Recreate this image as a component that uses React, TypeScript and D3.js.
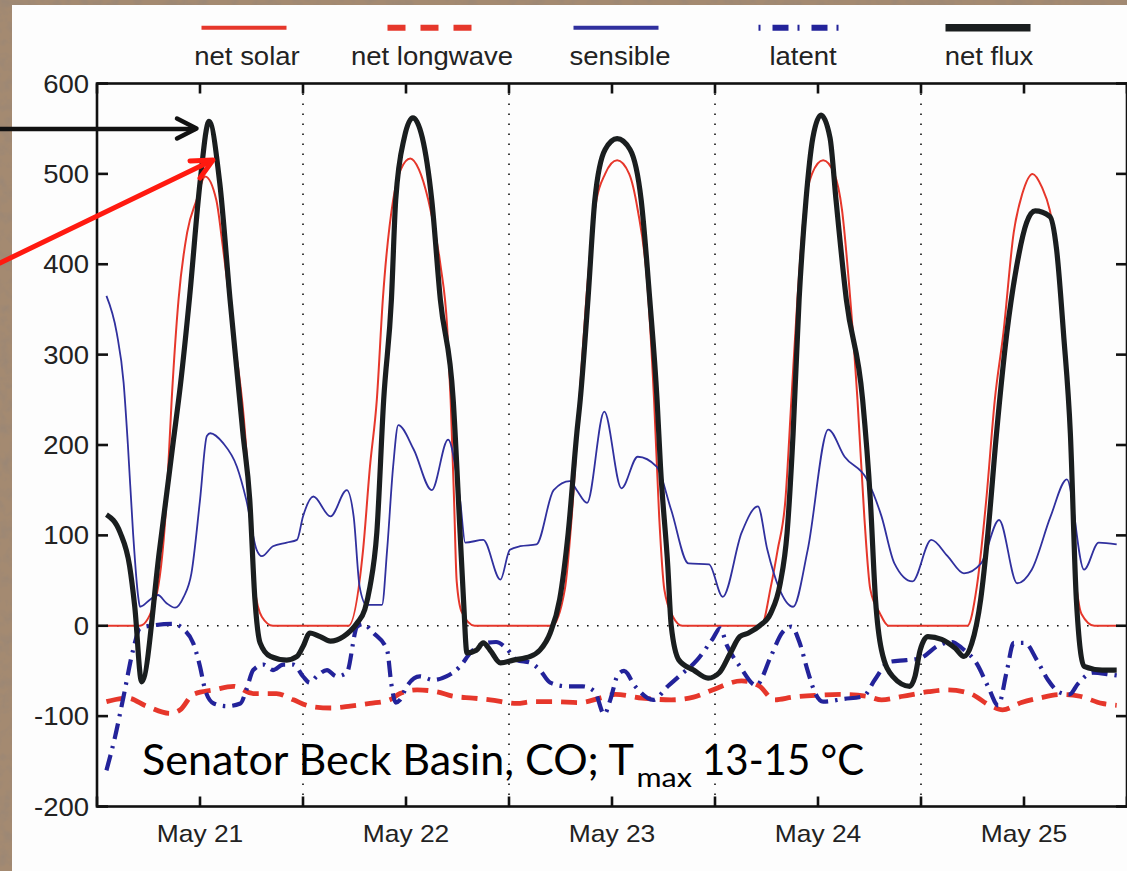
import React from 'react';
import * as d3 from 'd3';

// time in hours since the left edge of the axes (May 21 00:00), value in W m^-2
const netSolar: [number, number][] = [
  [1.1, 0], [5.0, 0], [6.8, 29], [8.1, 139], [8.7, 250], [9.5, 361], [10.5, 435], [11.6, 471], [12.6, 497],
  [13.9, 471], [14.6, 424], [15.8, 330], [17.1, 230], [17.8, 139], [18.4, 40], [19.2, 10], [20.5, 0],
  [29.3, 0], [31.0, 84], [31.8, 176], [32.6, 250], [33.3, 361], [34.5, 471], [35.4, 505], [36.5, 517],
  [37.5, 505], [38.6, 471], [40.0, 400], [40.8, 330], [41.2, 250], [41.6, 139], [41.9, 50], [42.5, 15], [44.0, 0],
  [53.0, 0], [54.5, 40], [55.3, 120], [56.2, 250], [57.0, 361], [58.0, 460], [59.2, 500], [60.6, 515],
  [62.0, 500], [63.0, 460], [64.1, 380], [64.9, 250], [65.5, 120], [66.1, 40], [67.1, 10], [68.2, 0],
  [77.4, 0], [78.5, 43], [79.3, 84], [80.2, 139], [80.9, 250], [81.6, 361], [82.4, 460], [83.3, 500], [84.6, 515],
  [85.9, 500], [86.8, 460], [87.6, 380], [88.6, 250], [89.4, 120], [90.1, 40], [91.2, 14], [92.2, 0],
  [101.4, 0], [102.5, 43], [103.6, 139], [104.6, 250], [105.6, 324], [106.8, 435], [107.8, 478], [109.0, 500],
  [110.1, 485], [111.0, 460], [112.0, 400], [112.8, 300], [113.4, 200], [113.8, 80], [114.3, 30], [114.7, 13],
  [116.2, 0], [118.8, 0],
];

const netLongwave: [number, number][] = [
  [1.1, -84], [3.5, -80], [5.8, -89], [8.5, -97], [9.7, -93], [11.2, -76], [13.6, -71], [15.9, -67], [18.2, -75],
  [20.9, -75], [22.9, -82], [24.8, -89], [27.2, -91], [29.5, -89], [31.8, -86], [34.1, -82], [35.3, -75],
  [37.3, -71], [39.6, -73], [41.5, -78], [43.8, -80], [45.8, -82], [48.9, -86], [50.8, -84], [53.2, -84],
  [56.3, -85], [58.6, -80], [60.4, -76], [63.5, -80], [66.9, -82], [69.5, -79], [71.7, -71], [75.1, -61],
  [77.2, -67], [78.9, -82], [81.1, -79], [83.7, -77], [87.1, -76], [89.7, -78], [91.4, -82], [93.9, -78],
  [96.9, -73], [99.1, -71], [101.7, -75], [104.2, -89], [105.5, -93], [107.7, -85], [109.8, -80], [112.4, -76],
  [114.5, -78], [117.1, -86], [118.8, -88],
];

const sensible: [number, number][] = [
  [1.1, 365], [2.3, 324], [3.1, 269], [3.6, 200], [4.2, 103], [4.8, 32], [5.0, 21], [6.2, 29], [7.1, 34],
  [8.1, 25], [9.1, 20], [10.1, 32], [11.0, 58], [12.0, 139], [12.8, 210], [13.2, 213], [14.7, 202], [16.3, 176],
  [17.4, 139], [18.6, 84], [19.2, 77], [20.5, 88], [22.1, 92], [23.3, 95], [24.0, 121], [25.2, 143], [27.2, 121],
  [29.1, 150], [29.9, 121], [30.6, 43], [31.4, 23], [33.2, 23], [33.8, 84], [34.5, 176], [35.1, 222], [36.9, 195],
  [39.0, 150], [40.9, 206], [42.3, 139], [42.9, 92], [45.0, 95], [47.0, 51], [48.1, 84], [49.3, 88], [51.2, 90],
  [53.2, 150], [55.1, 160], [55.9, 150], [57.1, 136], [59.1, 237], [61.1, 152], [63.0, 187], [65.2, 176],
  [66.9, 128], [68.9, 69], [71.3, 68], [72.9, 32], [75.1, 103], [77.0, 132], [78.1, 84], [79.4, 43], [81.1, 21],
  [82.8, 84], [85.2, 217], [87.1, 187], [89.7, 162], [91.4, 121], [92.9, 69], [95.0, 49], [97.2, 95], [99.1, 77],
  [101.0, 58], [103.0, 69], [105.1, 117], [107.2, 47], [108.9, 62], [111.1, 121], [113.0, 162], [115.0, 62],
  [116.7, 92], [118.8, 90],
];

const latent: [number, number][] = [
  [1.1, -160], [2.1, -123], [3.1, -78], [4.2, -27], [5.0, -3], [6.2, 0], [8.9, 2], [10.1, -4], [11.2, -19],
  [12.0, -45], [12.6, -71], [13.6, -86], [15.1, -89], [16.7, -86], [17.4, -71], [18.2, -49], [19.4, -43],
  [20.5, -49], [21.7, -43], [22.9, -43], [24.0, -56], [24.8, -63], [25.6, -56], [26.8, -49], [27.9, -56],
  [29.1, -52], [30.3, -1], [31.0, 2], [32.2, -8], [33.8, -27], [34.3, -65], [34.8, -85], [35.3, -82], [36.1, -67],
  [37.6, -56], [39.2, -60], [40.7, -56], [42.3, -45], [43.5, -30], [45.0, -20], [46.5, -18], [47.7, -25],
  [48.9, -38], [50.5, -41], [51.6, -49], [52.8, -63], [54.7, -67], [56.6, -67], [58.0, -73], [59.1, -98],
  [59.8, -82], [60.7, -54], [61.4, -50], [62.7, -67], [64.8, -82], [66.5, -67], [67.8, -56], [69.9, -38],
  [71.7, -15], [72.6, -3], [73.4, -22], [74.9, -45], [76.8, -66], [78.5, -34], [79.8, -8], [80.9, -1], [81.9, -20],
  [82.8, -50], [83.7, -75], [84.6, -84], [87.0, -81], [89.3, -78], [90.6, -60], [92.3, -40], [94.3, -38],
  [95.9, -36], [98.0, -22], [99.6, -18], [100.8, -25], [102.5, -42], [103.8, -67], [105.0, -88], [106.0, -50],
  [106.8, -19], [108.1, -19], [109.5, -38], [110.8, -60], [112.2, -74], [113.3, -76], [114.3, -64], [116.0, -52],
  [118.0, -54], [118.8, -55],
];

const netFlux: [number, number][] = [
  [1.1, 123], [2.7, 103], [3.8, 66], [4.4, 21], [5.2, -62], [7.3, 85], [8.9, 205], [9.7, 265], [10.8, 365],
  [12.0, 490], [13.05, 558], [14.3, 490], [15.5, 361], [17.0, 213], [17.8, 139], [18.4, 29], [19.0, -19],
  [20.2, -34], [22.1, -38], [23.3, -34], [24.0, -23], [24.8, -8], [26.0, -12], [27.2, -17], [28.7, -12],
  [30.3, 3], [31.2, 18], [31.8, 43], [32.6, 103], [33.4, 250], [34.3, 361], [34.8, 471], [35.8, 540], [36.8, 562],
  [37.9, 540], [39.0, 471], [40.0, 361], [41.5, 250], [42.3, 103], [42.7, 29], [43.1, -30], [44.2, -27],
  [45.0, -19], [45.8, -27], [47.0, -41], [48.5, -38], [50.5, -34], [51.6, -27], [52.8, -8], [53.9, 29],
  [54.9, 103], [55.9, 213], [56.3, 250], [57.2, 361], [58.0, 471], [59.2, 527], [60.6, 539], [62.1, 527],
  [63.4, 471], [64.4, 361], [65.25, 250], [65.65, 176], [66.5, 66], [66.9, 0], [67.8, -38], [69.5, -49],
  [71.2, -58], [72.5, -52], [73.8, -30], [74.9, -12], [75.9, -8], [77.2, 0], [78.5, 14], [79.6, 47], [80.4, 103],
  [81.1, 213], [81.8, 361], [82.6, 471], [83.4, 540], [84.35, 565], [85.4, 540], [86.1, 471], [87.3, 361],
  [89.2, 250], [90.1, 139], [90.7, 29], [91.4, -27], [92.7, -56], [94.7, -67], [95.3, -56], [95.9, -27],
  [96.8, -12], [98.4, -15], [100.0, -25], [101.0, -34], [101.9, -20], [102.95, 29], [103.8, 103], [104.8, 213],
  [106.0, 324], [107.15, 398], [108.3, 446], [109.3, 459], [111.0, 453], [111.8, 416], [112.6, 324], [113.4, 213],
  [114.1, 29], [115.0, -45], [117.1, -49], [118.8, -49],
];

const yTickValues = [-200, -100, 0, 100, 200, 300, 400, 500, 600];
const dayLabels = ['May 21', 'May 22', 'May 23', 'May 24', 'May 25'];
const dayLabelHours = [12, 36, 60, 84, 108];
const tickHours = [0, 12, 24, 36, 48, 60, 72, 84, 96, 108, 120];
const midnightHours = [24, 48, 72, 96];
const legendLabels = ['net solar', 'net longwave', 'sensible', 'latent', 'net flux'];

const RED = '#e6372b';
const BLUE = '#30309e';
const DKBLUE = '#23239a';
const BLACK = '#1a1e1f';

export default function App() {
  const W = 1127, H = 871;
  const left = 97, right = 1127, top = 83.5, bottom = 806.5;
  const x = d3.scaleLinear().domain([0, 120]).range([left, right]);
  const y = d3.scaleLinear().domain([-200, 600]).range([bottom, top]);
  const line = d3.line<[number, number]>().x(d => x(d[0])).y(d => y(d[1])).curve(d3.curveMonotoneX);

  const series = [
    { data: netSolar, color: RED, width: 2, dash: undefined as string | undefined },
    { data: netLongwave, color: RED, width: 4.8, dash: '16 9' },
    { data: sensible, color: BLUE, width: 1.8, dash: undefined },
    { data: latent, color: DKBLUE, width: 4.2, dash: '16 7 2.5 7' },
    { data: netFlux, color: BLACK, width: 5.2, dash: undefined },
  ];

  const legendCenters = [244, 430, 616, 801, 988];
  const legendStyles = [
    { color: RED, width: 4, dash: undefined as string | undefined },
    { color: RED, width: 6, dash: '18 15' },
    { color: BLUE, width: 4, dash: undefined },
    { color: DKBLUE, width: 6, dash: '2 12 16 9' },
    { color: BLACK, width: 7.5, dash: undefined },
  ];
  const textCenters = [247, 432, 620, 803, 989];

  const tickFont = '"Liberation Sans", Arial, Helvetica, sans-serif';

  return (
    <svg width={W} height={H} style={{ position: 'absolute', left: 0, top: 0, display: 'block' }}>
      <defs>
        <filter id="stone" x="0" y="0" width="100%" height="100%">
          <feTurbulence type="fractalNoise" baseFrequency="0.09" numOctaves="3" seed="5" result="n" />
          <feColorMatrix in="n" type="matrix"
            values="0 0 0 0 0.32  0 0 0 0 0.24  0 0 0 0 0.18  1.8 0 0 0 -0.75" />
        </filter>
        <clipPath id="plotClip">
          <rect x={left} y={top} width={right - left} height={bottom - top} />
        </clipPath>
      </defs>

      {/* textured background */}
      <rect x={0} y={0} width={W} height={H} fill="#a48a71" />
      <rect x={0} y={0} width={W} height={H} filter="url(#stone)" />
      {/* white figure panel */}
      <rect x={12} y={5} width={W - 12} height={H - 5} fill="#fdfdfd" />

      {/* legend */}
      {legendLabels.map((lab, i) => (
        <g key={lab}>
          <line x1={legendCenters[i] - 42.5} x2={legendCenters[i] + 42.5} y1={27.7} y2={27.7}
            stroke={legendStyles[i].color} strokeWidth={legendStyles[i].width}
            strokeDasharray={legendStyles[i].dash} />
          <g transform={`translate(${textCenters[i]},65) scale(1.1,1)`}>
            <text x={0} y={0} textAnchor="middle" fontFamily={tickFont} fontSize={25} fill="#222">{lab}</text>
          </g>
        </g>
      ))}

      {/* grid: dotted zero line and midnight lines */}
      <g stroke="#111" strokeWidth={1.6} strokeDasharray="1.6 8.4">
        <line x1={left} x2={right} y1={y(0)} y2={y(0)} />
        {midnightHours.map(h => (
          <line key={h} x1={x(h)} x2={x(h)} y1={top} y2={bottom} />
        ))}
      </g>

      {/* series */}
      <g clipPath="url(#plotClip)" fill="none">
        {series.map((s, i) => (
          <path key={i} d={line(s.data) || ''} stroke={s.color} strokeWidth={s.width}
            strokeDasharray={s.dash} strokeLinejoin="round" />
        ))}
      </g>

      {/* axes box and ticks */}
      <g stroke="#111" strokeWidth={2.6} fill="none">
        <rect x={left} y={top} width={right - left} height={bottom - top} />
        {yTickValues.map(v => (
          <g key={v}>
            <line x1={left} x2={left + 11} y1={y(v)} y2={y(v)} />
            <line x1={right - 11} x2={right} y1={y(v)} y2={y(v)} />
          </g>
        ))}
        {tickHours.map(h => (
          <g key={h}>
            <line x1={x(h)} x2={x(h)} y1={bottom} y2={bottom - 10} />
            <line x1={x(h)} x2={x(h)} y1={top} y2={top + 10} />
          </g>
        ))}
      </g>
      {yTickValues.map(v => (
        <g key={v} transform={`translate(89,${y(v) + 9}) scale(1.1,1)`}>
          <text x={0} y={0} textAnchor="end" fontFamily={tickFont} fontSize={25} fill="#222">{v}</text>
        </g>
      ))}
      {dayLabels.map((lab, i) => (
        <g key={lab} transform={`translate(${x(dayLabelHours[i])},842) scale(1.1,1)`}>
          <text x={0} y={0} textAnchor="middle" fontFamily={tickFont} fontSize={24} fill="#222">{lab}</text>
        </g>
      ))}

      {/* annotation */}
      <g fontFamily="Lato, 'Open Sans', sans-serif" fill="#000">
        <text x={142} y={775} fontSize={42} textLength={492} lengthAdjust="spacingAndGlyphs">Senator Beck Basin, CO; T</text>
        <text x={636.5} y={786.7} fontSize={26} textLength={55.5} lengthAdjust="spacingAndGlyphs">max</text>
        <text x={702} y={775} fontSize={42} textLength={162} lengthAdjust="spacingAndGlyphs">13-15 °C</text>
      </g>

      {/* arrows */}
      <g fill="none" strokeLinecap="round" strokeLinejoin="round">
        <line x1={0} y1={129} x2={195} y2={129} stroke="#111" strokeWidth={4.5} />
        <polyline points="177,118.5 196.5,128.5 177,138.5" stroke="#111" strokeWidth={4.5} />
        <line x1={0} y1={263} x2={211} y2={161} stroke="#ff1a10" strokeWidth={5} />
        <polyline points="190,161 213,160 200,178" stroke="#ff1a10" strokeWidth={5} />
      </g>
    </svg>
  );
}
